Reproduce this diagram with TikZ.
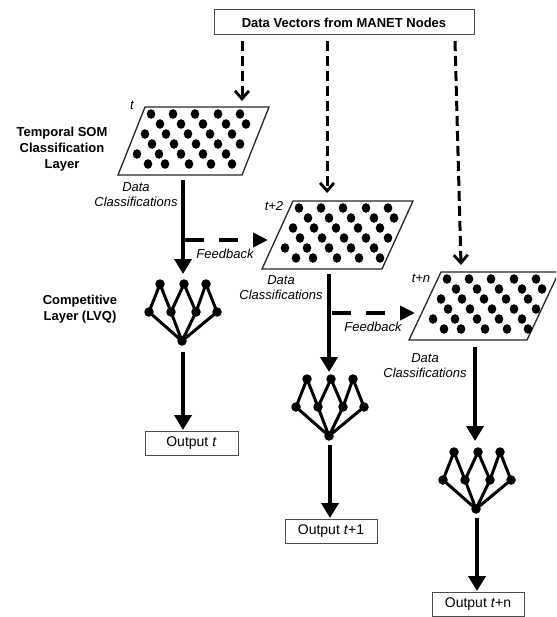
\documentclass[tikz,border=0pt]{standalone}
\usepackage{fontspec}
\setmainfont{Liberation Sans}
\usetikzlibrary{arrows.meta}
\newcommand\SomLayer[5]{% #1 name, #2 x, #3 y, #4 width, #5 skew
  \begin{scope}[shift={(#2,#3)}]
    \draw[som] (0,0) coordinate (#1tl) -- (#4,0) coordinate (#1tr) -- (#4-#5,68) coordinate (#1br) -- (-#5,68) coordinate (#1bl) -- cycle;
    \foreach \dx/\dy in {6/7,28/7,50/7,73/7,95/7,
                         15/17,36/17,58/17,81/17,101/17,
                         0/27,21/27,43/27,65/27,87/27,
                         7/37,29/37,51/37,73/37,95/37,
                         -8/47,14/47,36/47,58/47,81/47,
                         3/57,20/57,44/57,66/57,87/57}
      \fill[dot] (\dx,\dy) ellipse[x radius=4.3pt,y radius=4.8pt];
  \end{scope}}
\newcommand\LvqNet[3]{% #1 prefix, #2 bottom x, #3 top y
  \coordinate (#1a) at (#2-22,#3);
  \coordinate (#1b) at (#2+2,#3);
  \coordinate (#1c) at (#2+24,#3);
  \coordinate (#1p) at (#2-33,#3+28);
  \coordinate (#1q) at (#2-11,#3+28);
  \coordinate (#1r) at (#2+14,#3+28);
  \coordinate (#1s) at (#2+35,#3+28);
  \coordinate (#1o) at (#2,#3+57);
  \draw[syn] (#1a) -- (#1p) (#1a) -- (#1q) (#1b) -- (#1q) (#1b) -- (#1r)
             (#1c) -- (#1r) (#1c) -- (#1s) (#1p) -- (#1o) (#1q) -- (#1o)
             (#1r) -- (#1o) (#1s) -- (#1o);
  \foreach \n in {a,b,c,p,q,r,s,o} \node[neuron] (#1n\n) at (#1\n) {};}
\begin{document}
\begin{tikzpicture}[x=1pt,y=-1pt,
  box/.style={draw=black!70,line width=0.9pt,minimum height=24pt,inner sep=0pt,font=\fontsize{14}{16}\selectfont},
  srcbox/.style={draw=black!70,line width=1pt,minimum width=260pt,minimum height=25pt,inner sep=0pt,font=\bfseries\fontsize{13}{15}\selectfont},
  lab/.style={font=\bfseries\fontsize{13}{16}\selectfont,align=center,inner sep=0pt},
  itl/.style={font=\itshape\fontsize{13}{15}\selectfont,align=center,inner sep=0pt},
  neuron/.style={circle,fill=black,inner sep=0pt,minimum size=9.5pt},
  syn/.style={line width=3pt,line cap=round},
  bigarrow/.style={line width=4pt,-{Triangle[length=15pt,width=17pt]}},
  srcarrow/.style={line width=3pt,dash pattern=on 10pt off 5pt,-{Straight Barb[length=8pt,width=14pt,line width=2.8pt]}},
  fbarrow/.style={line width=4.5pt,dash pattern=on 19pt off 15pt,-{Triangle[length=15pt,width=14pt]}},
  som/.style={draw=black!85,line width=1.3pt},
  dot/.style={fill=black}
]
\clip (0,0) rectangle (556,617);
\fill[white] (0,0) rectangle (556,617);

% source box
\node[srcbox] (src) at (344,22.5) {Data Vectors from MANET Nodes};

% SOM layers
\SomLayer{somA}{145}{107}{124}{27}
\SomLayer{somB}{293}{201}{120}{31}
\SomLayer{somC}{441}{272}{118}{32}

\node[itl] (tA) at (132,105) {t};
\node[itl] (tB) at (274,206) {t+2};
\node[itl] (tC) at (421,278) {t+n};

% left labels
\node[lab] (somlab) at (62,149) {Temporal SOM\\Classification\\Layer};
\node[lab] (lvqlab) at (80,309) {Competitive\\Layer (LVQ)};

% data classification labels
\node[itl] (dcA) at (136,195) {Data\\Classifications};
\node[itl] (dcB) at (281,288) {Data\\Classifications};
\node[itl] (dcC) at (425,366) {Data\\Classifications};

% LVQ networks
\LvqNet{lA}{182}{284}
\LvqNet{lB}{329}{379}
\LvqNet{lC}{476}{452}

% outputs
\node[box,minimum width=93pt] (outA) at (191.5,443) {Output \textit{t}};
\node[box,minimum width=92pt] (outB) at (331,531) {Output \textit{t}+1};
\node[box,minimum width=92pt] (outC) at (478,604) {Output \textit{t}+n};

% source dashed arrows
\coordinate (s1s) at (242,41);  \coordinate (s1e) at (242,101);
\coordinate (s2s) at (327,41);  \coordinate (s2e) at (327,193);
\coordinate (s3s) at (455,41);  \coordinate (s3e) at (461,265);
\draw[srcarrow] (s1s) -- (s1e);
\draw[srcarrow] (s2s) -- (s2e);
\draw[srcarrow] (s3s) -- (s3e);

% classification arrows
\coordinate (v1s) at (183,180); \coordinate (v1e) at (183,274);
\coordinate (v2s) at (329,274); \coordinate (v2e) at (329,372);
\coordinate (v3s) at (475,347); \coordinate (v3e) at (475,441);
\draw[bigarrow] (v1s) -- (v1e);
\draw[bigarrow] (v2s) -- (v2e);
\draw[bigarrow] (v3s) -- (v3e);

% output arrows
\coordinate (o1s) at (183,352); \coordinate (o1e) at (183,430);
\coordinate (o2s) at (330,445); \coordinate (o2e) at (330,518);
\coordinate (o3s) at (477,518); \coordinate (o3e) at (477,591);
\draw[bigarrow] (o1s) -- (o1e);
\draw[bigarrow] (o2s) -- (o2e);
\draw[bigarrow] (o3s) -- (o3e);

% feedback arrows
\coordinate (f1s) at (185,240); \coordinate (f1e) at (268,240);
\coordinate (f2s) at (332,313); \coordinate (f2e) at (415,313);
\draw[fbarrow] (f1s) -- (f1e);
\draw[fbarrow] (f2s) -- (f2e);
\node[itl] (fbA) at (225,254) {Feedback};
\node[itl] (fbB) at (373,327) {Feedback};
\end{tikzpicture}
\end{document}
